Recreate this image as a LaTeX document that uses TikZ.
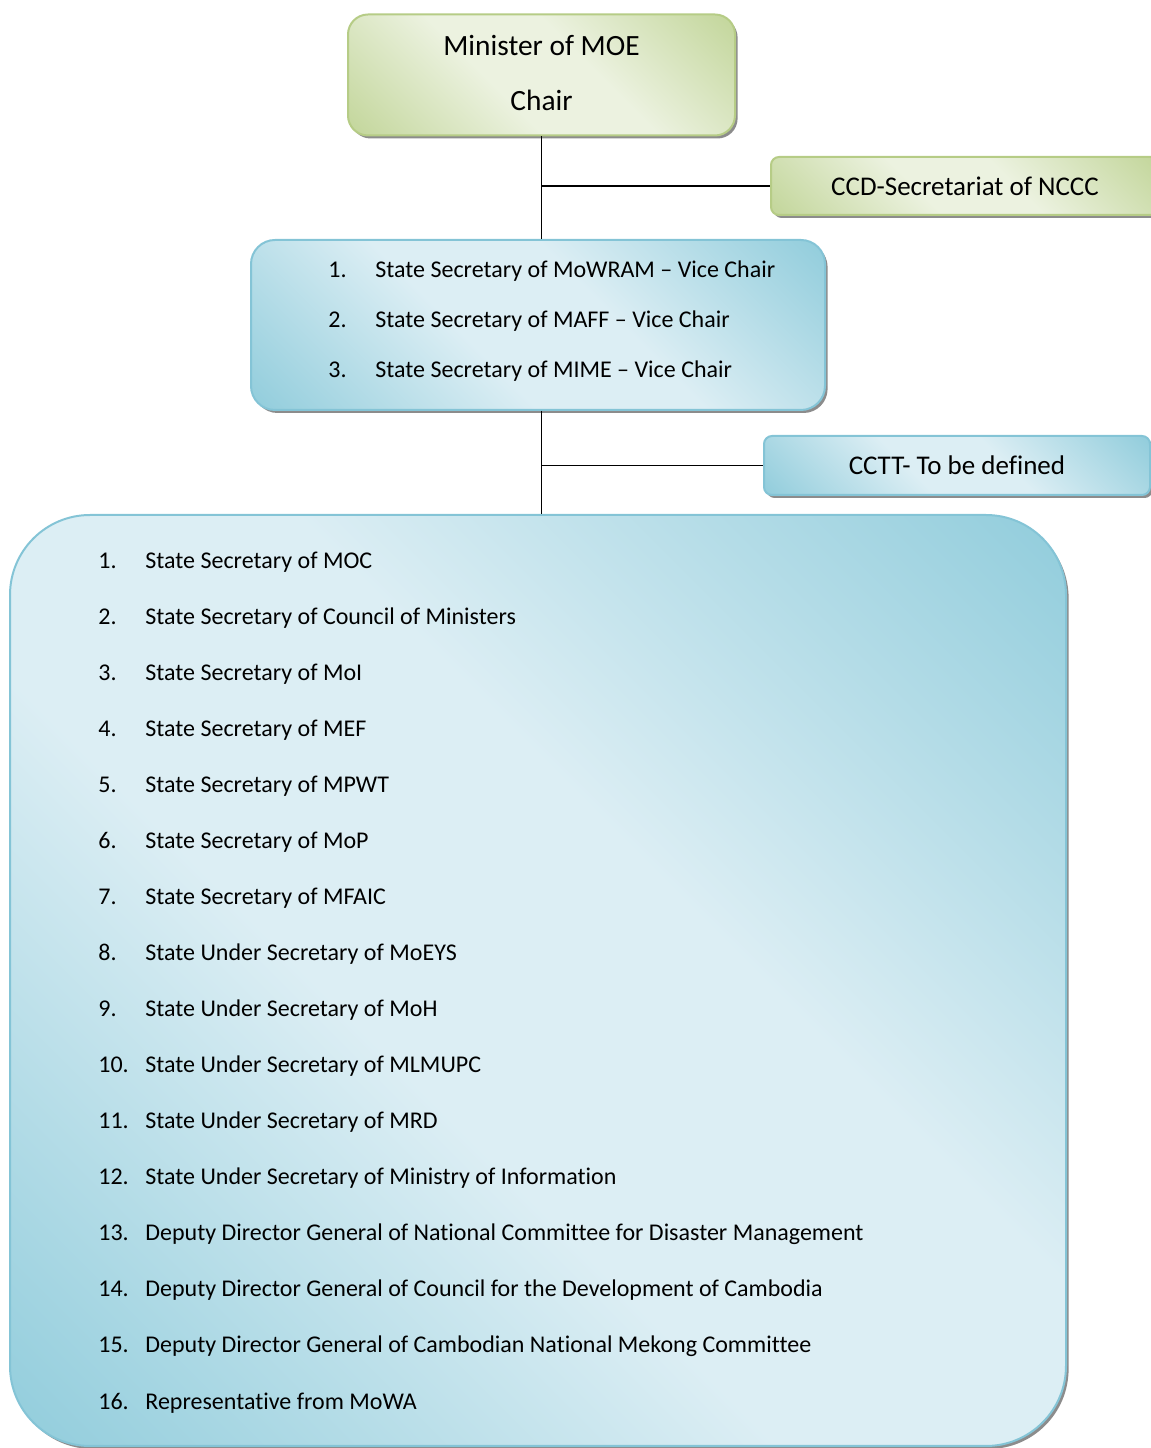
\documentclass[tikz,border=0pt]{standalone}
\usepackage{fontspec}
\setmainfont[Ligatures=NoCommon]{Carlito}
\usetikzlibrary{shadows}
\definecolor{bdark}{RGB}{146,205,220}
\definecolor{blight}{RGB}{220,238,244}
\definecolor{bborder}{RGB}{132,196,214}
\definecolor{gdark}{RGB}{195,214,155}
\definecolor{glight}{RGB}{236,242,224}
\definecolor{gborder}{RGB}{182,204,134}
\pgfdeclarehorizontalshading{bluediag}{100bp}{color(0bp)=(bdark); color(15bp)=(bdark); color(42bp)=(blight); color(58bp)=(blight); color(85bp)=(bdark); color(100bp)=(bdark)}
\pgfdeclarehorizontalshading{greendiag}{100bp}{color(0bp)=(gdark); color(15bp)=(gdark); color(42bp)=(glight); color(58bp)=(glight); color(85bp)=(gdark); color(100bp)=(gdark)}
\tikzset{
  boxbase/.style={rectangle, inner sep=0pt, line width=1pt,
    drop shadow={shadow xshift=1.3pt, shadow yshift=-1.5pt, fill=black!45, opacity=1}},
  greenbox/.style={boxbase, draw=gborder, shading=greendiag, shading angle=45},
  bluebox/.style={boxbase, draw=bborder, shading=bluediag, shading angle=45},
  conn/.style={line width=0.9pt, black},
  item/.style={anchor=base west, inner sep=0pt, font=\fontsize{12}{14}\selectfont},
}
\begin{document}
\begin{tikzpicture}[x=0.5pt,y=0.5pt]
\useasboundingbox (0,0) rectangle (1151,1448);
% boxes
\node[greenbox, rounded corners=10pt, minimum width=193.5pt, minimum height=60.5pt] (minister) at (541.5,1373) {};
\node[align=center, inner sep=0pt, font=\fontsize{14.7}{27.5}\selectfont] (mintext) at (541.5,1375) {Minister of MOE\\Chair};
\node[greenbox, rounded corners=4pt, minimum width=194pt, minimum height=29pt,
      font=\fontsize{13.5}{15}\selectfont] (ccd) at (965,1262) {CCD-Secretariat of NCCC};
\node[bluebox, rounded corners=12pt, minimum width=287pt, minimum height=85pt] (mid) at (538,1123) {};
\node[bluebox, rounded corners=4pt, minimum width=193pt, minimum height=29.5pt,
      font=\fontsize{13.5}{15}\selectfont] (cctt) at (957,982.5) {CCTT- To be defined};
\node[bluebox, rounded corners=40pt, minimum width=528pt, minimum height=465.5pt] (big) at (538,467.5) {};
% connectors
\draw[conn] (minister.south) -- (minister.south |- mid.north);
\coordinate (j1) at (minister.south |- ccd.west);
\draw[conn] (j1) -- (ccd.west);
\draw[conn] (mid.south -| minister.south) -- (big.north -| minister.south);
\coordinate (j2) at (minister.south |- cctt.west);
\draw[conn] (j2) -- (cctt.west);
% middle list
\foreach \i/\t [count=\k] in {1/State Secretary of MoWRAM -- Vice Chair,
                               2/State Secretary of MAFF -- Vice Chair,
                               3/State Secretary of MIME -- Vice Chair} {
  \node[item] (mn\k) at (328,{1170-50*(\k-1)}) {\i.};
  \node[item] (mt\k) at (375,{1170-50*(\k-1)}) {\t};
}
% big list
\foreach \t [count=\k] in {State Secretary of MOC,
  State Secretary of Council of Ministers,
  State Secretary of MoI,
  State Secretary of MEF,
  State Secretary of MPWT,
  State Secretary of MoP,
  State Secretary of MFAIC,
  State Under Secretary of MoEYS,
  State Under Secretary of MoH,
  State Under Secretary of MLMUPC,
  State Under Secretary of MRD,
  State Under Secretary of Ministry of Information,
  Deputy Director General of National Committee for Disaster Management,
  Deputy Director General of Council for the Development of Cambodia,
  Deputy Director General of Cambodian National Mekong Committee,
  Representative from MoWA} {
  \node[item] (bn\k) at (98,{879-56*(\k-1)}) {\k.};
  \node[item] (bt\k) at (145,{879-56*(\k-1)}) {\t};
}
\end{tikzpicture}
\end{document}
